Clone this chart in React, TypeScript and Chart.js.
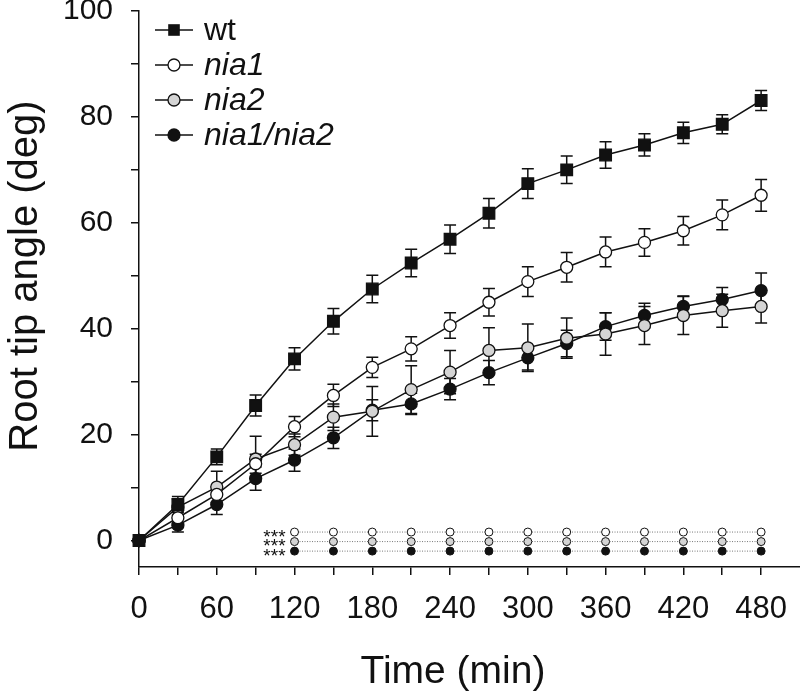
import React, { useEffect, useRef } from 'react';
import { Chart, registerables } from 'chart.js';
Chart.register(...registerables);

// ---- data ----
const times = [0, 30, 60, 90, 120, 150, 180, 210, 240, 270, 300, 330, 360, 390, 420, 450, 480];
const wt = [0, 6.8, 15.8, 25.5, 34.3, 41.4, 47.5, 52.4, 56.9, 61.8, 67.4, 70.0, 72.8, 74.7, 77.0, 78.6, 83.1];
const wtErr = [0, 1.5, 1.5, 2.0, 2.1, 2.4, 2.6, 2.6, 2.7, 2.8, 2.8, 2.6, 2.5, 2.1, 2.0, 1.8, 1.9];
const nia1 = [0, 4.3, 8.7, 14.5, 21.5, 27.4, 32.7, 36.2, 40.6, 45.0, 48.9, 51.6, 54.5, 56.3, 58.5, 61.5, 65.2];
const nia1Err = [0, 1.2, 1.5, 1.8, 1.9, 2.1, 1.9, 2.3, 2.4, 2.6, 2.8, 2.8, 2.8, 2.6, 2.7, 2.8, 3.0];
const nia2 = [0, 6.3, 10.1, 15.4, 18.1, 23.3, 24.4, 28.5, 31.8, 35.9, 36.4, 38.2, 39.0, 40.6, 42.5, 43.4, 44.2];
const nia2Err = [0, 1.5, 3.0, 4.3, 2.0, 2.5, 4.7, 4.5, 4.1, 4.3, 4.5, 3.8, 4.0, 3.6, 3.6, 3.1, 3.1];
const nia1nia2 = [0, 2.9, 6.8, 11.7, 15.2, 19.4, 24.6, 25.8, 28.6, 31.7, 34.5, 37.2, 40.4, 42.5, 44.2, 45.5, 47.2];
const nia1nia2Err = [0, 1.3, 1.9, 2.2, 2.1, 2.0, 2.0, 2.0, 2.0, 2.3, 2.3, 2.5, 2.6, 2.3, 2.0, 2.3, 3.3];

const sigTimes = [120, 150, 180, 210, 240, 270, 300, 330, 360, 390, 420, 450, 480];
const sigRowY = [1.6, -0.2, -2.0];
const sigLabel = '***';

const xTickLabels = [0, 60, 120, 180, 240, 300, 360, 420, 480];
const yTickLabels = [0, 20, 40, 60, 80, 100];

const seriesNames = ['wt', 'nia1', 'nia2', 'nia1/nia2'];
const seriesItalic = [false, true, true, true];
const seriesFill = ['#111111', '#ffffff', '#d4d4d4', '#111111'];
const seriesStyle = ['rect', 'circle', 'circle', 'circle'];
const seriesRadius = [8.2, 6, 6, 6];

const allValues = [wt, nia1, nia2, nia1nia2];
const allErrors = [wtErr, nia1Err, nia2Err, nia1nia2Err];

const SANS = '"Liberation Sans", Arial, sans-serif';

export default function App() {
  const ref = useRef<HTMLCanvasElement | null>(null);

  useEffect(() => {
    document.body.style.margin = '0';
    document.body.style.background = '#ffffff';
    const canvas = ref.current;
    if (!canvas) return;

    const mainSets = allValues.map((vals, k) => ({
      label: seriesNames[k],
      data: times.map((t, i) => ({ x: t, y: vals[i] })),
      borderColor: '#111111',
      borderWidth: 1.5,
      backgroundColor: seriesFill[k],
      pointStyle: seriesStyle[k],
      pointRadius: seriesRadius[k],
      pointBorderColor: '#111111',
      pointBorderWidth: 1.3,
      pointBackgroundColor: seriesFill[k],
      showLine: true,
      fill: false,
      tension: 0,
      clip: false as any,
      errors: allErrors[k],
    }));

    const sigFills = ['#ffffff', '#d4d4d4', '#111111'];
    const sigSets = sigRowY.map((yv, r) => ({
      label: 'sig' + r,
      data: sigTimes.map((t) => ({ x: t, y: yv })),
      borderColor: '#777777',
      borderWidth: 1,
      borderDash: [1, 1.5],
      pointStyle: 'circle',
      pointRadius: 4,
      pointBorderColor: '#111111',
      pointBorderWidth: 1,
      pointBackgroundColor: sigFills[r],
      showLine: true,
      fill: false,
      clip: false as any,
    }));

    const errorBars = {
      id: 'errorBars',
      beforeDatasetsDraw(chart: any) {
        const ctx = chart.ctx;
        const xs = chart.scales.x;
        const ys = chart.scales.y;
        ctx.save();
        ctx.strokeStyle = '#111111';
        ctx.lineWidth = 1.5;
        chart.data.datasets.forEach((ds: any) => {
          if (!ds.errors) return;
          ds.data.forEach((p: any, i: number) => {
            const e = ds.errors[i];
            if (!e) return;
            const px = xs.getPixelForValue(p.x);
            const top = ys.getPixelForValue(p.y + e);
            const bot = ys.getPixelForValue(p.y - e);
            const cw = 6;
            ctx.beginPath();
            ctx.moveTo(px, top);
            ctx.lineTo(px, bot);
            ctx.moveTo(px - cw, top);
            ctx.lineTo(px + cw, top);
            ctx.moveTo(px - cw, bot);
            ctx.lineTo(px + cw, bot);
            ctx.stroke();
          });
        });
        ctx.restore();
      },
    };

    const annotations = {
      id: 'annotations',
      afterDraw(chart: any) {
        const ctx = chart.ctx;
        const xs = chart.scales.x;
        const ys = chart.scales.y;
        ctx.save();
        // significance labels
        ctx.fillStyle = '#111111';
        ctx.font = '19px ' + SANS;
        ctx.textAlign = 'right';
        ctx.textBaseline = 'alphabetic';
        sigRowY.forEach((yv) => {
          ctx.fillText(sigLabel, xs.getPixelForValue(sigTimes[0]) - 9, ys.getPixelForValue(yv) + 10.5);
        });

        // legend
        const lx0 = 155, lx1 = 193, lmx = 174, tx = 204;
        const rowY = [30, 65, 100, 135];
        seriesNames.forEach((name, k) => {
          const y = rowY[k];
          ctx.strokeStyle = '#111111';
          ctx.lineWidth = 1.5;
          ctx.beginPath();
          ctx.moveTo(lx0, y);
          ctx.lineTo(lx1, y);
          ctx.stroke();
          ctx.fillStyle = seriesFill[k];
          ctx.lineWidth = 1.3;
          if (seriesStyle[k] === 'rect') {
            ctx.fillRect(lmx - 5.8, y - 5.8, 11.6, 11.6);
          } else {
            ctx.beginPath();
            ctx.arc(lmx, y, 6, 0, Math.PI * 2);
            ctx.fill();
            ctx.stroke();
          }
          ctx.fillStyle = '#111111';
          ctx.font = (seriesItalic[k] ? 'italic ' : '') + '32px ' + SANS;
          ctx.textAlign = 'left';
          ctx.textBaseline = 'alphabetic';
          ctx.fillText(name, tx, y + 10);
        });

        // axis titles
        ctx.fillStyle = '#111111';
        ctx.font = '40px ' + SANS;
        ctx.textAlign = 'center';
        ctx.textBaseline = 'alphabetic';
        ctx.save();
        ctx.translate(37, 276);
        ctx.rotate(-Math.PI / 2);
        ctx.fillText('Root tip angle (deg)', 0, 0);
        ctx.restore();
        ctx.font = '39px ' + SANS;
        ctx.fillText('Time (min)', 453, 683);
        ctx.restore();
      },
    };

    const chart = new Chart(canvas, {
      type: 'line',
      data: { datasets: [...mainSets, ...sigSets] as any },
      options: {
        responsive: false,
        animation: false,
        events: [],
        layout: { autoPadding: false, padding: { top: 11, right: 0, left: 0, bottom: 0 } },
        plugins: { legend: { display: false }, tooltip: { enabled: false } },
        scales: {
          x: {
            type: 'linear',
            min: 0,
            max: 510,
            afterFit: (s: any) => {
              s.height = 124;
              s.paddingLeft = 0;
              s.paddingRight = 0;
            },
            afterBuildTicks: (s: any) => {
              s.ticks = times.map((v) => ({ value: v }));
            },
            ticks: {
              autoSkip: false,
              maxRotation: 0,
              padding: 16,
              color: '#111111',
              font: { family: SANS, size: 31 },
              callback: (v: any) => (xTickLabels.includes(Number(v)) ? String(v) : ''),
            },
            grid: { display: true, drawOnChartArea: false, color: '#111111', lineWidth: 1.5, tickLength: 8 },
            border: { display: true, color: '#111111', width: 1.5 },
          },
          y: {
            type: 'linear',
            min: -5,
            max: 100,
            afterFit: (s: any) => {
              s.width = 139;
              s.paddingTop = 0;
              s.paddingBottom = 0;
            },
            afterBuildTicks: (s: any) => {
              const arr: any[] = [];
              for (let v = 0; v <= 100; v += 10) arr.push({ value: v });
              s.ticks = arr;
            },
            ticks: {
              autoSkip: false,
              padding: 18,
              color: '#111111',
              font: { family: SANS, size: 30 },
              callback: (v: any) => (yTickLabels.includes(Number(v)) ? String(v) : ''),
            },
            grid: { display: true, drawOnChartArea: false, color: '#111111', lineWidth: 1.5, tickLength: 8 },
            border: { display: true, color: '#111111', width: 1.5 },
          },
        },
      } as any,
      plugins: [errorBars, annotations],
    });
    return () => chart.destroy();
  }, []);

  return (
    <div style={{ width: 800, height: 691, background: '#ffffff' }}>
      <canvas ref={ref} width={800} height={691} style={{ display: 'block' }} />
    </div>
  );
}
